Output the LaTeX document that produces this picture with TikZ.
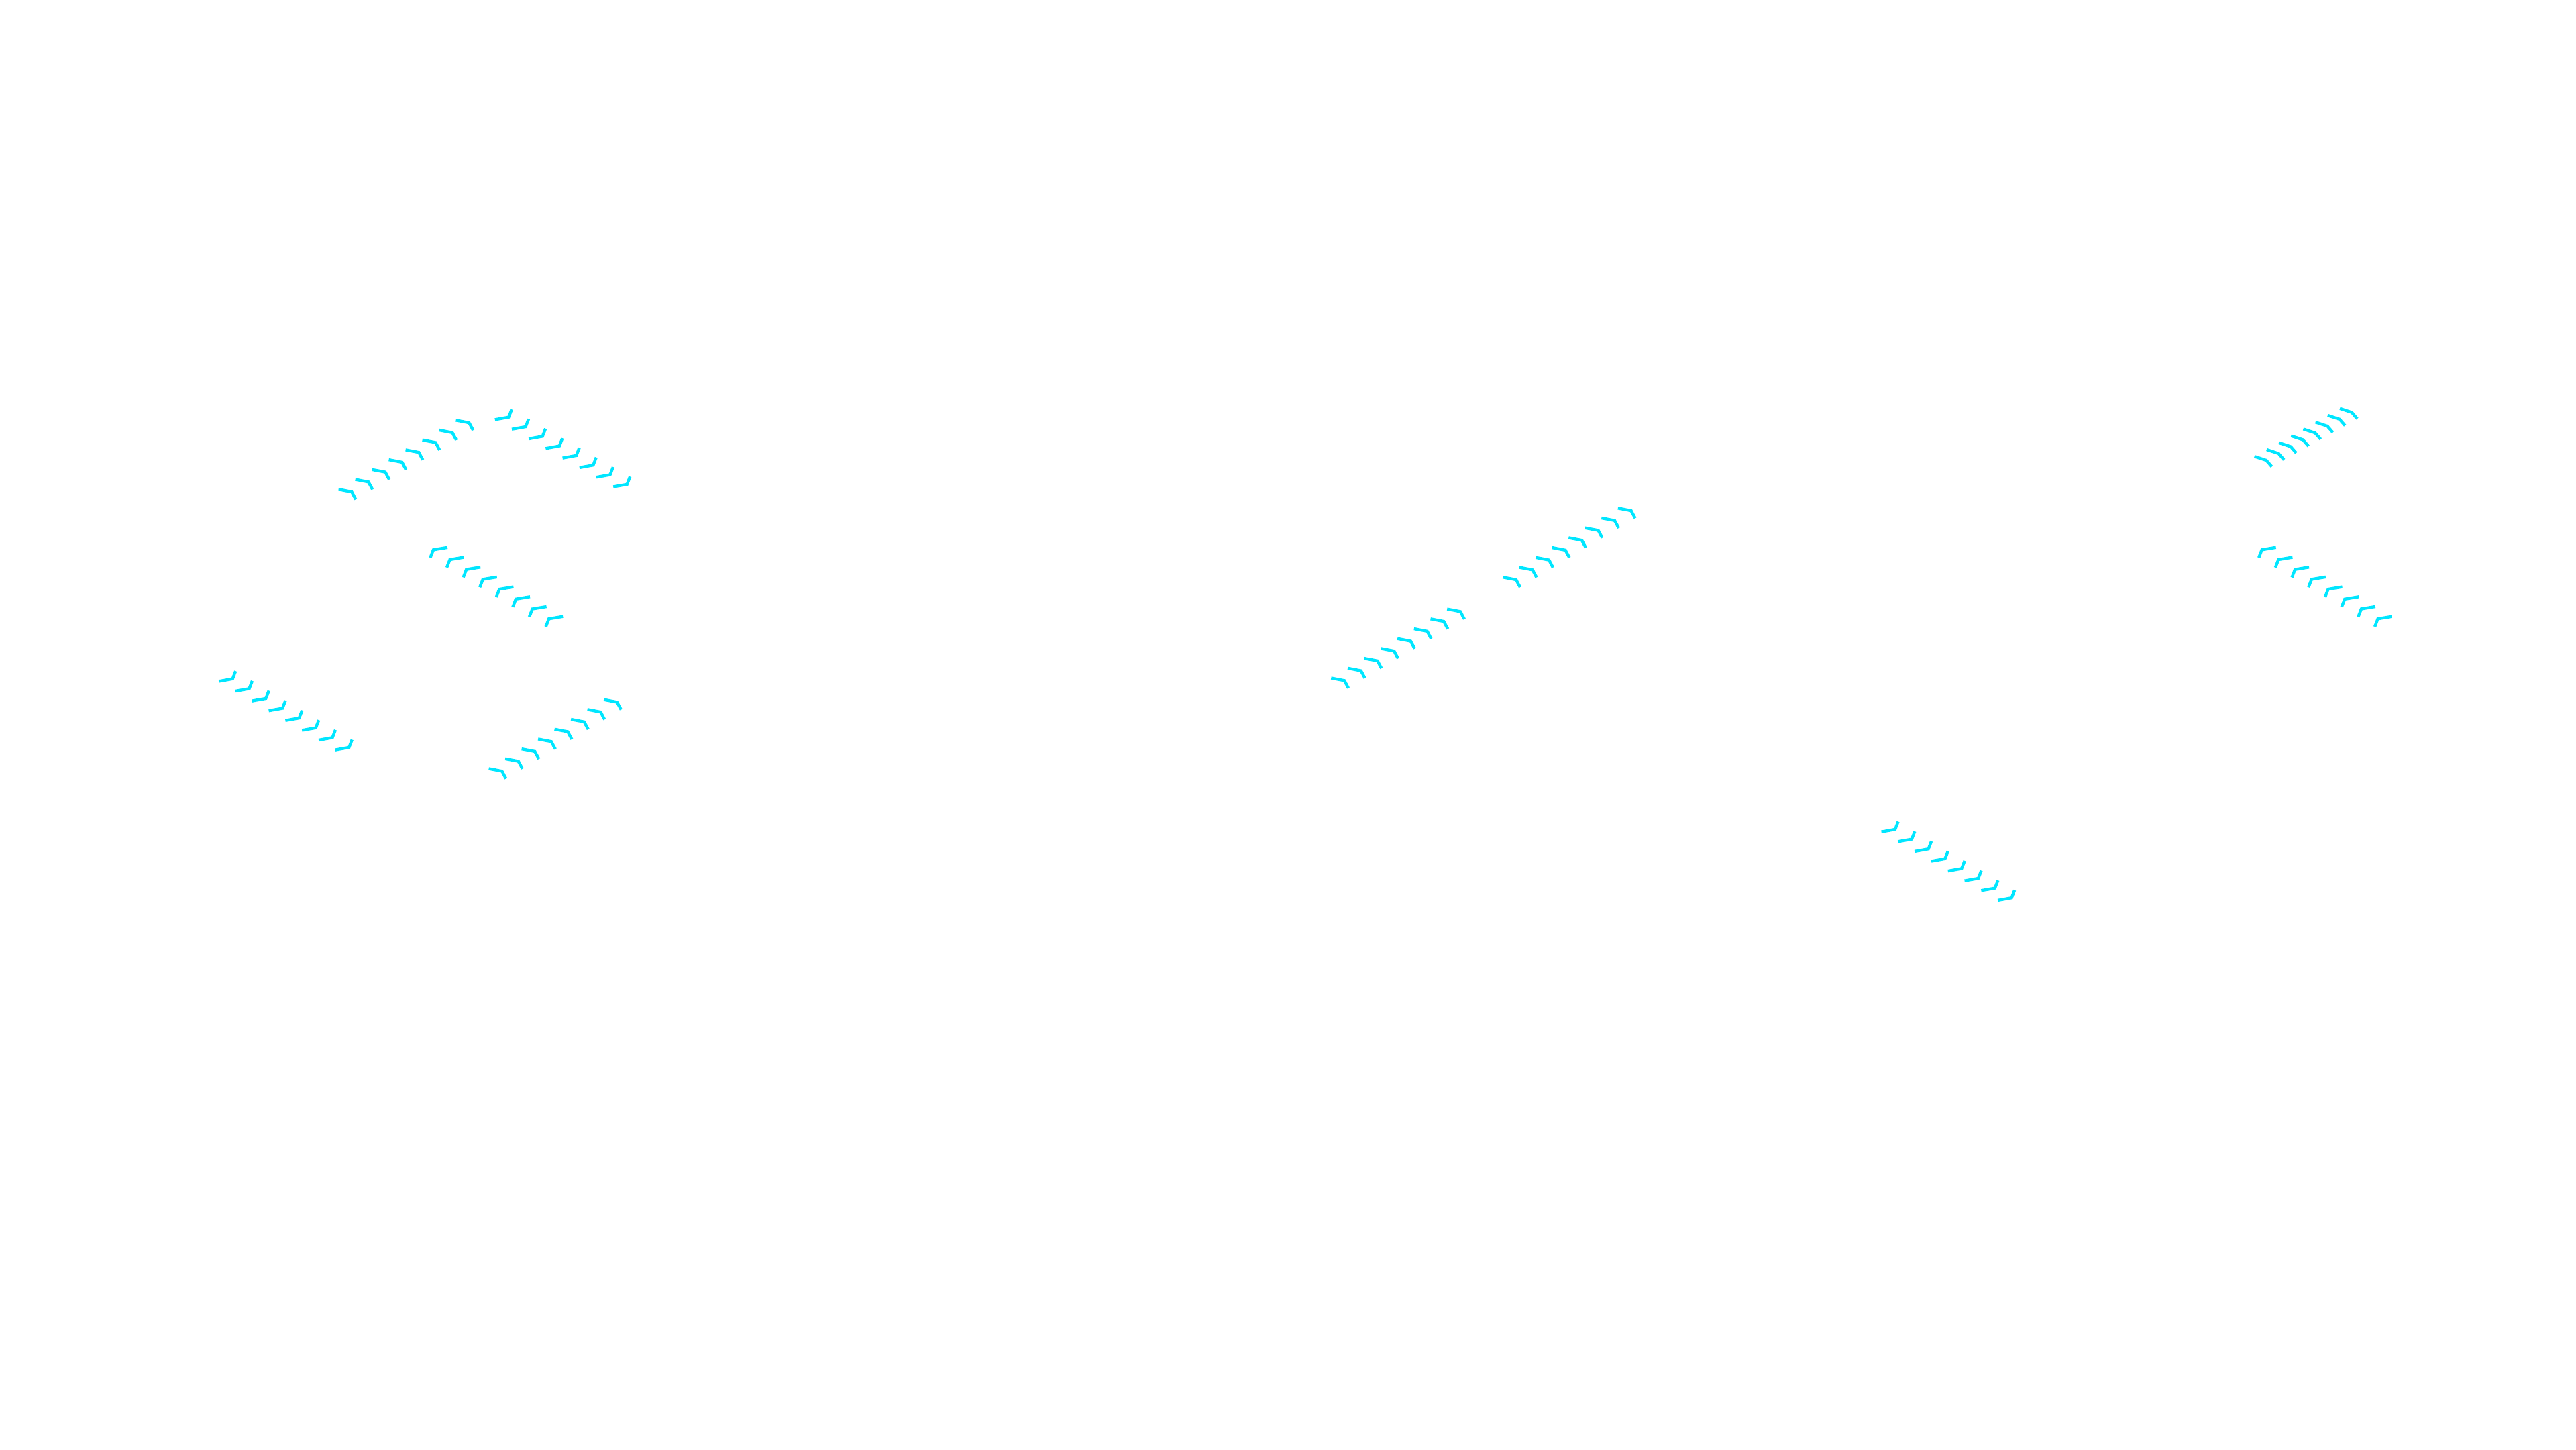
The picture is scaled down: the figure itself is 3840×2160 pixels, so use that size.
\documentclass[tikz,border=0pt]{standalone}
\definecolor{flowcyan}{RGB}{0,230,255}
\tikzset{chev/.style={draw=flowcyan, line width=1.25pt, line join=miter}}
\newcommand{\chevrow}[8]{%
  \foreach \i in {0,...,7}{%
    \draw[chev] ({#1+\i*(#3)+(#5)},{#2+\i*(#4)+(#6)}) -- ({#1+\i*(#3)},{#2+\i*(#4)}) -- ({#1+\i*(#3)+(#7)},{#2+\i*(#4)+(#8)});
  }}
\begin{document}
\begin{tikzpicture}[x=0.01cm,y=-0.01cm]
\fill[white] (0,0) rectangle (3840,2160);
\useasboundingbox (0,0) rectangle (3840,2160);
% group A
\chevrow{524.3}{733}{25}{-14.7}{-19.7}{-3.8}{6}{11.2}
% group B
\chevrow{758.3}{621.7}{25.2}{14.3}{-20.5}{3.7}{4.5}{-11.5}
% group C
\chevrow{646}{819.3}{24.6}{14.7}{21}{-3.5}{-4.6}{11.8}
% group D
\chevrow{346.7}{1011.7}{24.8}{14.6}{-20.5}{3.7}{4.5}{-11.5}
% group E
\chevrow{748.3}{1149.3}{24.5}{-14.7}{-19.7}{-3.8}{6}{11.2}
% group F
\chevrow{2004}{1014.3}{24.7}{-14.7}{-19.7}{-3.8}{6}{11.2}
% group G
\chevrow{2260}{864}{24.5}{-14.7}{-19.7}{-3.8}{6}{11.2}
% group H
\chevrow{2825}{1236}{24.8}{14.6}{-20.5}{3.7}{4.5}{-11.5}
% group I
\chevrow{3378.3}{686}{18.2}{-10.2}{-17.7}{-5.8}{8.2}{9.5}
% group J
\chevrow{3371.7}{819.3}{24.7}{14.7}{21}{-3.5}{-4.6}{11.8}
\end{tikzpicture}
\end{document}
